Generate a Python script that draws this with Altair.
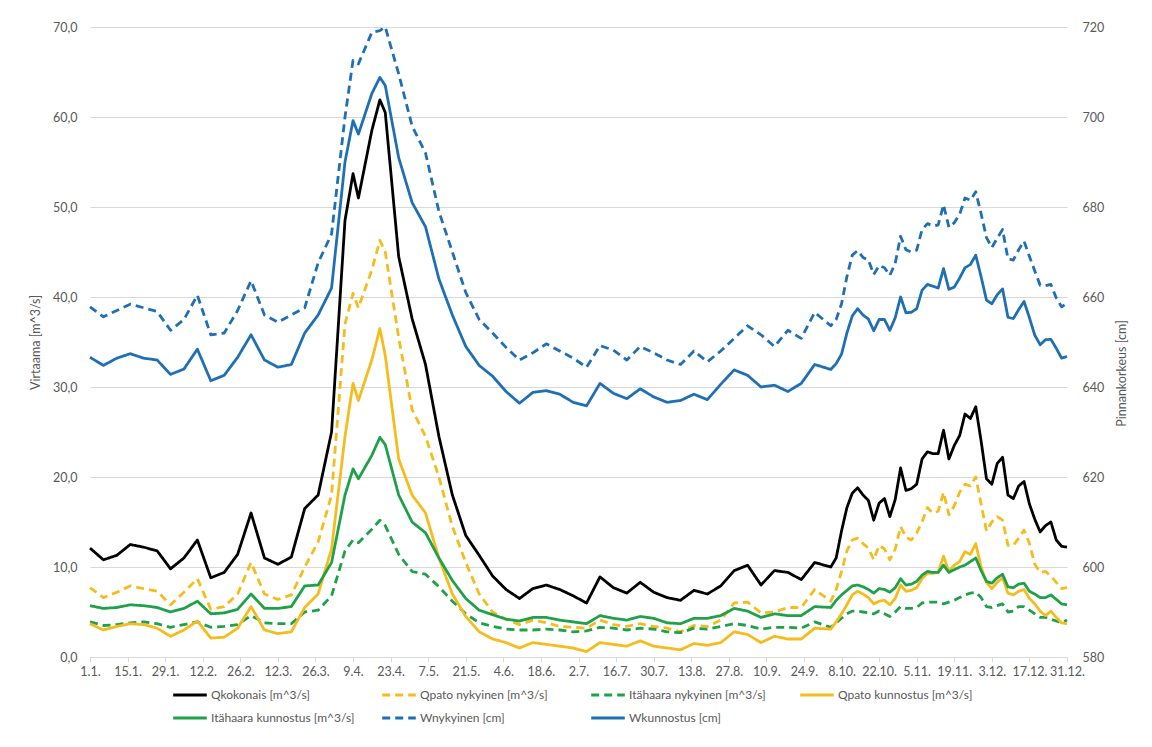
import altair as alt
import pandas as pd

days = ([0, 5, 10, 15, 20, 25, 30, 35, 40, 45, 50, 55, 60, 65, 70, 75, 80, 85, 90, 95,
         98, 100, 105, 108,
         110, 115, 120, 125, 130, 135, 140, 145, 150, 155, 160, 165, 170, 175, 180, 185,
         190, 195, 200, 205, 210, 215, 220, 225, 230, 235, 240, 245, 250, 255, 260, 265, 270]
        + [276, 278, 280, 282, 284, 286, 288, 290, 292, 294, 296, 298, 300, 302, 304, 306,
           308, 310, 312, 314, 316, 318, 320, 322, 324, 326, 328, 330, 332, 334, 336, 338,
           340, 342, 344, 346, 348, 350, 352, 354, 356, 358, 360, 362, 364])

tick_days = list(range(0, 365, 14))
tick_labels = ["1.1.", "15.1.", "29.1.", "12.2.", "26.2.", "12.3.", "26.3.", "9.4.", "23.4.",
               "7.5.", "21.5.", "4.6.", "18.6.", "2.7.", "16.7.", "30.7.", "13.8.", "27.8.",
               "10.9.", "24.9.", "8.10.", "22.10.", "5.11.", "19.11.", "3.12.", "17.12.", "31.12."]

qkokonais = [12.1, 10.8, 11.3, 12.5, 12.2, 11.8, 9.8, 11.0, 13.0, 8.8,
             9.4, 11.4, 16.0, 11.0, 10.3, 11.1, 16.5, 18.0, 25.0, 48.5,
             53.7, 51.0, 58.5, 61.9,
             60.5, 44.5, 37.6, 32.5, 24.5, 18.0, 13.5, 11.3,
             9.0, 7.5, 6.5, 7.6, 8.0, 7.5, 6.8, 6.0, 8.9, 7.7,
             7.1, 8.3, 7.2, 6.6, 6.3, 7.4, 7.0, 7.9, 9.6, 10.2,
             8.0, 9.6, 9.4, 8.6, 10.5,
             10.0, 11.0, 14.0, 16.6, 18.2, 18.8, 18.0, 17.4, 15.2, 17.1,
             17.6, 15.6, 17.5, 21.0, 18.5, 18.7, 19.2, 22.0, 22.8, 22.6,
             22.6, 25.2, 22.0, 23.5, 24.6, 27.0, 26.5, 27.8, 24.0, 19.8,
             19.2, 21.5, 22.2, 18.0, 17.6, 19.0, 19.5, 17.0, 15.3, 13.9,
             14.6, 15.0, 13.0, 12.3, 12.2]

qpato_nyk = [7.7, 6.6, 7.2, 7.9, 7.6, 7.3, 5.8, 7.2, 8.7, 5.3,
             5.6, 7.0, 10.5, 7.0, 6.4, 6.9, 10.0, 12.8, 18.0, 37.0,
             40.4, 38.8, 43.0, 46.3,
             45.0, 35.5, 27.5, 24.5, 20.0, 14.5, 10.5, 7.0,
             5.0, 4.2, 3.6, 4.1, 3.8, 3.4, 3.3, 3.2, 4.1, 3.6,
             3.4, 3.7, 3.4, 3.2, 2.8, 3.5, 3.4, 4.1, 6.0, 6.1,
             4.9, 5.0, 5.5, 5.5, 7.5,
             6.2, 7.5, 9.5, 11.8, 13.0, 13.2, 12.6, 12.1, 10.8, 12.4,
             12.0, 10.8, 12.0, 14.5, 13.3, 13.0, 13.8, 15.0, 16.6, 16.0,
             16.2, 18.3, 15.8, 16.8, 18.3, 19.2, 19.0, 20.0, 17.0, 14.0,
             15.0, 15.6, 15.2, 12.4, 12.4, 13.2, 14.1, 12.6, 10.3, 9.4,
             9.5, 9.0, 8.3, 7.6, 7.7]

ita_nyk = [3.9, 3.5, 3.6, 3.8, 3.9, 3.7, 3.3, 3.6, 3.9, 3.3,
           3.4, 3.6, 4.6, 3.8, 3.7, 3.7, 5.0, 5.2, 6.8, 11.8,
           13.0, 12.7, 14.2, 15.2,
           14.6, 11.4, 9.5, 9.2, 7.8, 6.2, 4.8, 3.8,
           3.4, 3.1, 3.0, 3.0, 3.1, 3.0, 2.8, 2.9, 3.3, 3.2,
           3.0, 3.2, 3.1, 2.8, 2.7, 3.2, 3.1, 3.4, 3.7, 3.5,
           3.1, 3.3, 3.3, 3.2, 3.9,
           3.3, 3.8, 4.3, 4.8, 5.1, 5.1, 5.0, 4.9, 4.8, 5.1,
           4.8, 4.5, 5.0, 5.6, 5.4, 5.4, 5.5, 6.0, 6.1, 6.1,
           6.1, 5.9, 6.1, 6.3, 6.6, 6.9, 7.1, 7.2, 6.6, 5.6,
           5.5, 5.7, 5.9, 5.0, 5.1, 5.6, 5.6, 5.2, 4.8, 4.4,
           4.4, 4.2, 4.0, 3.8, 4.1]

qpato_kun = [3.7, 3.0, 3.4, 3.7, 3.6, 3.2, 2.3, 3.0, 4.0, 2.1,
             2.2, 3.2, 5.6, 3.0, 2.6, 2.8, 5.5, 7.0, 12.0, 24.5,
             30.4, 28.5, 33.0, 36.5,
             33.5, 22.0, 18.0, 16.0, 11.0, 7.0, 4.5, 2.8,
             2.0, 1.6, 1.0, 1.6, 1.4, 1.2, 1.0, 0.6, 1.6, 1.4,
             1.2, 1.8, 1.2, 1.0, 0.8, 1.5, 1.3, 1.6, 2.8, 2.5,
             1.6, 2.3, 2.0, 2.0, 3.2,
             3.1, 3.9, 4.8, 5.8, 6.9, 7.3, 7.0, 6.6, 5.9, 6.2,
             6.3, 5.8, 6.5, 8.0, 7.3, 7.4, 7.7, 8.7, 9.3, 9.3,
             9.4, 11.2, 9.5, 10.2, 10.6, 11.7, 11.4, 12.6, 10.0, 8.3,
             7.6, 8.3, 8.8, 7.1, 6.9, 7.3, 7.5, 6.5, 5.9, 5.1,
             4.6, 5.1, 4.4, 3.8, 3.7]

ita_kun = [5.7, 5.4, 5.5, 5.8, 5.7, 5.5, 5.0, 5.4, 6.2, 4.8,
           4.9, 5.3, 7.0, 5.4, 5.4, 5.6, 7.9, 8.0, 10.5, 18.0,
           20.9, 19.8, 22.4, 24.4,
           23.6, 18.0, 15.0, 13.8, 11.0, 8.5, 6.5, 5.2,
           4.7, 4.2, 4.0, 4.4, 4.4, 4.1, 3.9, 3.7, 4.6, 4.3,
           4.1, 4.5, 4.3, 3.8, 3.7, 4.3, 4.3, 4.6, 5.4, 5.1,
           4.4, 4.8, 4.6, 4.6, 5.6,
           5.5, 6.3, 6.9, 7.4, 7.9, 8.0, 7.8, 7.5, 7.1, 7.6,
           7.5, 7.2, 7.7, 8.7, 8.0, 8.1, 8.4, 9.1, 9.5, 9.4,
           9.4, 10.2, 9.4, 9.7, 10.0, 10.2, 10.6, 11.0, 9.6, 8.4,
           8.2, 8.8, 9.2, 7.8, 7.7, 8.1, 8.2, 7.3, 7.0, 6.6,
           6.6, 6.9, 6.4, 5.9, 5.8]

w_nyk = [657.8, 655.6, 657.0, 658.4, 657.6, 656.8, 652.6, 655.0, 660.4, 651.6,
         652.0, 657.0, 663.6, 656.0, 654.4, 656.0, 657.6, 667.6, 674.0, 700.0,
         712.6, 711.8, 718.8, 719.2,
         720.0, 709.6, 698.0, 692.0, 679.0, 670.0, 661.0, 655.0,
         652.0, 648.8, 646.0, 647.6, 649.6, 648.0, 646.4, 644.4, 649.2, 648.2,
         646.0, 649.0, 647.6, 646.0, 645.0, 648.0, 645.6, 648.0, 650.8, 653.6,
         651.6, 649.0, 652.6, 650.8, 656.6,
         653.6, 655.0, 658.5, 664.5, 669.3, 670.3, 668.8, 668.2, 665.0, 667.0,
         666.5, 664.8, 667.5, 673.5, 670.5, 670.0, 670.4, 675.0, 676.3, 675.8,
         676.0, 680.5, 675.5, 676.5, 678.4, 682.0, 681.5, 683.4, 678.5, 673.2,
         671.0, 673.1, 675.0, 668.5, 668.2, 670.5, 672.4, 669.0, 665.8, 662.6,
         662.5, 662.8, 659.8, 657.8, 658.6]

w_kun = [646.6, 644.8, 646.4, 647.4, 646.4, 646.0, 642.8, 644.0, 648.4, 641.4,
         642.6, 646.6, 651.6, 646.0, 644.4, 645.0, 652.0, 656.0, 662.0, 690.0,
         699.2, 696.2, 705.2, 708.8,
         707.0, 691.0, 681.0, 675.6, 664.0, 656.0, 649.0, 644.8,
         642.4, 639.0, 636.4, 638.8, 639.2, 638.4, 636.6, 635.8, 640.8, 638.6,
         637.4, 639.6, 637.8, 636.6, 637.0, 638.4, 637.2, 640.6, 643.8, 642.6,
         640.0, 640.4, 639.0, 640.8, 645.0,
         643.9, 645.2, 647.3, 652.0, 655.8, 657.4, 656.0, 655.1, 652.5, 655.0,
         655.0, 652.6, 655.4, 660.0, 656.5, 656.6, 657.4, 661.5, 662.8, 662.4,
         662.0, 666.3, 661.7, 662.2, 664.2, 666.5, 667.2, 669.3, 664.5, 659.3,
         658.5, 660.5, 661.8, 655.5, 655.2, 657.2, 659.0, 655.4, 651.5, 649.4,
         650.5, 650.6, 648.6, 646.4, 646.8]

series_names = ["Qkokonais [m^3/s]", "Qpato nykyinen [m^3/s]", "Itähaara nykyinen [m^3/s]",
                "Qpato kunnostus [m^3/s]", "Itähaara kunnostus [m^3/s]",
                "Wnykyinen [cm]", "Wkunnostus [cm]"]
series_colors = ["#000000", "#F4BC1C", "#1FA14A", "#F4BC1C", "#1FA14A", "#1F6FB4", "#1F6FB4"]
series_dashes = [[1, 0], [8, 5], [8, 5], [1, 0], [1, 0], [8, 5], [1, 0]]

left_values = [qkokonais, qpato_nyk, ita_nyk, qpato_kun, ita_kun]
right_values = [w_nyk, w_kun]

left_rows = []
for name, vals in zip(series_names[:5], left_values):
    for d, v in zip(days, vals):
        left_rows.append({"day": d, "value": v, "series": name})
right_rows = []
for name, vals in zip(series_names[5:], right_values):
    for d, v in zip(days, vals):
        right_rows.append({"day": d, "value": v, "series": name})
left_df = pd.DataFrame(left_rows)
right_df = pd.DataFrame(right_rows)

label_array = "[" + ",".join('"%s"' % t for t in tick_labels) + "]"
TXT = "#595959"
GRID = "#D9D9D9"
FONT = "Lato"

x_enc = alt.X("day:Q",
              scale=alt.Scale(domain=[0, 364], nice=False, zero=False),
              axis=alt.Axis(values=tick_days, labelExpr=label_array + "[round(datum.value/14)]",
                            title=None, grid=False, domainColor=GRID, tickColor=GRID,
                            tickSize=5, labelPadding=3, labelFlush=False))

legend = alt.Legend(title=None, orient="none", legendX=88, legendY=656, columns=4,
                    direction="horizontal",
                    symbolType="M-1.6,0L1.6,0", symbolSize=441, symbolStrokeWidth=3,
                    labelOffset=9, columnPadding=21, rowPadding=5, gridAlign="all",
                    labelFont=FONT, labelFontSize=12, labelColor=TXT, labelLimit=300)

color_enc = alt.Color("series:N", scale=alt.Scale(domain=series_names, range=series_colors),
                      legend=legend)
dash_enc = alt.StrokeDash("series:N", scale=alt.Scale(domain=series_names, range=series_dashes),
                          legend=legend)

left = alt.Chart(left_df).mark_line(strokeWidth=2.8, strokeJoin="round").encode(
    x=x_enc,
    y=alt.Y("value:Q", scale=alt.Scale(domain=[0, 70], nice=False),
            axis=alt.Axis(values=list(range(0, 71, 10)),
                          labelExpr="replace(format(datum.value, '.1f'), '.', ',')",
                          title="Virtaama [m^3/s]", grid=True, gridColor=GRID, domain=False,
                          ticks=False, labelPadding=13, titleX=-55, titleY=315,
                          titleAngle=270, titleAlign="center", titleBaseline="middle")),
    color=color_enc,
    strokeDash=dash_enc,
    detail="series:N",
)

right = alt.Chart(right_df).mark_line(strokeWidth=2.8, strokeJoin="round").encode(
    x=x_enc,
    y=alt.Y("value:Q", scale=alt.Scale(domain=[580, 720], nice=False, zero=False),
            axis=alt.Axis(orient="right", values=list(range(580, 721, 20)),
                          title="Pinnankorkeus [cm]", grid=False, domain=False, ticks=False,
                          labelPadding=15, titleX=54, titleY=346, titleAngle=270,
                          titleAlign="center", titleBaseline="middle")),
    color=color_enc,
    strokeDash=dash_enc,
    detail="series:N",
)

chart = alt.layer(left, right).resolve_scale(y="independent").properties(
    width=977, height=630,
    padding={"left": 82, "top": 19, "right": 77, "bottom": 82},
    autosize=alt.AutoSizeParams(type="none"),
    background="white",
).configure_axis(
    labelFont=FONT, titleFont=FONT, labelColor=TXT, titleColor=TXT,
    labelFontSize=12.5, titleFontSize=12.5, titleFontWeight="normal",
).configure_view(stroke=None)

chart.save("out.html", embed_options={"renderer": "svg", "actions": False})
